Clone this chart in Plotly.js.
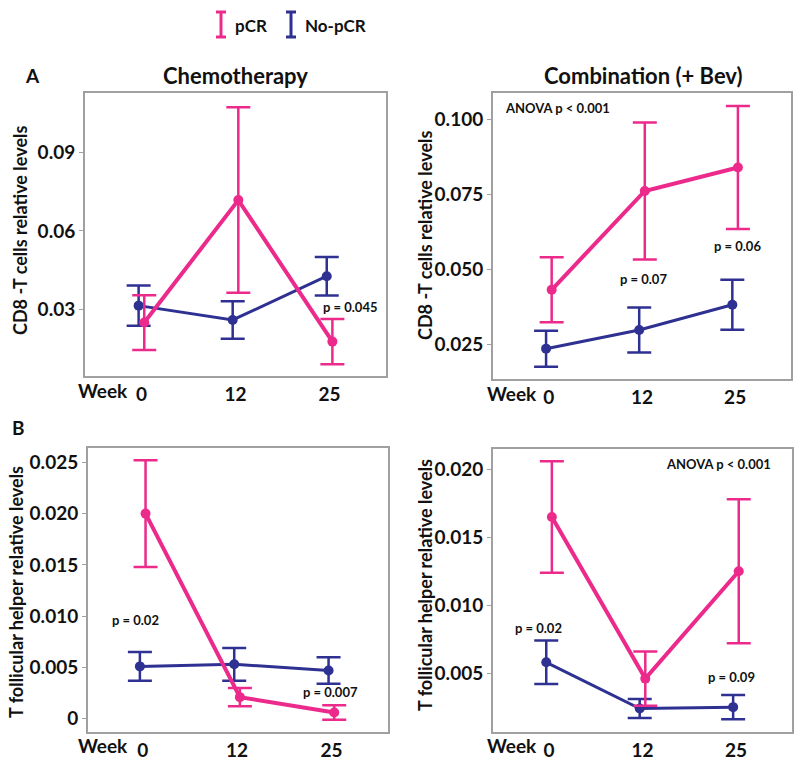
<!DOCTYPE html>
<html>
<head>
<meta charset="utf-8">
<script src="https://cdn.plot.ly/plotly-3.0.1.min.js"></script>
<style>
  body { margin: 0; background: #fff; }
  #chart { width: 800px; height: 763px; outline: 2px solid #a8a8a8; outline-offset: -2px; }
</style>
</head>
<body>
<div id="chart"></div>
<script>
// week categories
var weeks = ['0', '12', '25'];
var weekIdx = [0, 1, 2];

// A: CD8 T cells, chemotherapy
var chemoCd8Pcr = [0.0248, 0.0718, 0.0175];
var chemoCd8PcrErr = [0.0105, 0.0356, 0.0087];
var chemoCd8No = [0.0313, 0.0258, 0.0426];
var chemoCd8NoErr = [0.0077, 0.0072, 0.0074];

// A: CD8 T cells, combination
var combCd8Pcr = [0.0433, 0.0762, 0.0840];
var combCd8PcrErr = [0.0108, 0.0228, 0.0205];
var combCd8No = [0.0237, 0.0299, 0.0383];
var combCd8NoErr = [0.0060, 0.0075, 0.0083];

// B: T follicular helper, chemotherapy
var chemoTfhPcr = [0.0200, 0.0021, 0.0006];
var chemoTfhPcrErr = [0.0052, 0.0009, 0.0007];
var chemoTfhNo = [0.0051, 0.0053, 0.0047];
var chemoTfhNoErr = [0.0014, 0.0016, 0.0013];

// B: T follicular helper, combination
var combTfhPcr = [0.0165, 0.0046, 0.0125];
var combTfhPcrErr = [0.0041, 0.0020, 0.0053];
var combTfhNo = [0.0058, 0.0024, 0.0025];
var combTfhNoErr = [0.0016, 0.0007, 0.0009];

// y tick labels
var tickA1 = [0.03, 0.06, 0.09];
var tickA1Text = ['0.03', '0.06', '0.09'];
var tickA2 = [0.025, 0.05, 0.075, 0.1];
var tickA2Text = ['0.025', '0.050', '0.075', '0.100'];
var tickB1 = [0, 0.005, 0.01, 0.015, 0.02, 0.025];
var tickB1Text = ['0', '0.005', '0.010', '0.015', '0.020', '0.025'];
var tickB2 = [0.005, 0.01, 0.015, 0.02];
var tickB2Text = ['0.005', '0.010', '0.015', '0.020'];

var PINK = '#ec2a8c';
var BLUE = '#2e3192';
var FONT = 'Lato, "Open Sans", sans-serif';
var W = 800, H = 763;

function series(x, y, err, color, lw, xa, ya) {
    return {
        x: x, y: y, xaxis: xa, yaxis: ya,
        type: 'scatter', mode: 'lines+markers',
        line: {color: color, width: lw},
        marker: {color: color, size: 10},
        error_y: {type: 'data', array: err, visible: true, color: color, thickness: 2.5, width: 12},
        showlegend: false, hoverinfo: 'skip'
    };
}

// small dodge so the two groups don't sit exactly on each other
var pcrX = weekIdx.map(function(i){ return i + 0.03; });
var noX = weekIdx.map(function(i){ return i - 0.03; });

var data = [
    series(noX, chemoCd8No, chemoCd8NoErr, BLUE, 3, 'x', 'y'),
    series(pcrX, chemoCd8Pcr, chemoCd8PcrErr, PINK, 4, 'x', 'y'),
    series(noX, combCd8No, combCd8NoErr, BLUE, 3, 'x2', 'y2'),
    series(pcrX, combCd8Pcr, combCd8PcrErr, PINK, 4, 'x2', 'y2'),
    series(noX, chemoTfhNo, chemoTfhNoErr, BLUE, 3, 'x3', 'y3'),
    series(pcrX, chemoTfhPcr, chemoTfhPcrErr, PINK, 4, 'x3', 'y3'),
    series(noX, combTfhNo, combTfhNoErr, BLUE, 3, 'x4', 'y4'),
    series(pcrX, combTfhPcr, combTfhPcrErr, PINK, 4, 'x4', 'y4')
];

function xdom(l, r){ return [l / W, r / W]; }
function ydom(t, b){ return [1 - b / H, 1 - t / H]; }

function xaxis(l, r, range, ya) {
    return {
        domain: xdom(l, r), anchor: ya, range: range,
        tickvals: weekIdx, ticktext: weeks,
        showline: true, mirror: true, linecolor: '#a0a0a0', linewidth: 2,
        showgrid: false, zeroline: false, ticks: '',
        tickfont: {family: FONT, size: 19, color: '#111', weight: 700}
    };
}
function yaxis(t, b, range, vals, text, xa) {
    return {
        domain: ydom(t, b), anchor: xa, range: range,
        tickvals: vals, ticktext: text,
        showline: true, mirror: true, linecolor: '#a0a0a0', linewidth: 2,
        showgrid: false, zeroline: false, ticks: 'outside', ticklen: 4, tickcolor: '#a0a0a0',
        tickfont: {family: FONT, size: 19, color: '#111', weight: 700}
    };
}

function note(text, px, py, size, opts) {
    var a = {
        text: text, x: px / W, y: 1 - py / H, xref: 'paper', yref: 'paper',
        showarrow: false, xanchor: 'center', yanchor: 'middle',
        font: {family: FONT, size: size, color: '#111', weight: 700}
    };
    for (var k in (opts || {})) a[k] = opts[k];
    return a;
}

var annotations = [
    note('pCR', 233, 25, 17, {xanchor: 'left'}),
    note('No-pCR', 303, 25, 17, {xanchor: 'left'}),
    note('A', 32, 75, 19),
    note('B', 18, 427, 19),
    note('Chemotherapy', 235, 75, 22),
    note('Combination (+ Bev)', 643, 75, 22),
    note('CD8 -T cells relative levels', 20, 231, 18, {textangle: -90}),
    note('CD8 -T cells relative levels', 425, 236, 18, {textangle: -90}),
    note('T follicular helper relative levels', 16, 592, 18, {textangle: -90}),
    note('T follicular helper relative levels', 425, 585, 18, {textangle: -90}),
    note('Week', 103, 390, 19),
    note('Week', 512, 393, 19),
    note('Week', 103, 745, 19),
    note('Week', 512, 745, 19),
    note('p = 0.045', 350, 307, 13),
    note('ANOVA p < 0.001', 503, 108, 13, {xanchor: 'left'}),
    note('p = 0.07', 643, 279, 13),
    note('p = 0.06', 737, 246, 13),
    note('p = 0.02', 135, 620, 13),
    note('p = 0.007', 330, 692, 13),
    note('ANOVA p < 0.001', 718, 464, 13),
    note('p = 0.02', 538, 628, 13),
    note('p = 0.09', 731, 677, 13)
];

// legend glyphs: little error-bar "I" shapes
function glyph(cx, color) {
    var top = 12, bot = 37, hw = 5;
    var s = {type: 'line', xref: 'paper', yref: 'paper', line: {color: color, width: 3}};
    function ln(x0, y0, x1, y1) {
        var o = Object.assign({}, s);
        o.x0 = x0 / W; o.x1 = x1 / W; o.y0 = 1 - y0 / H; o.y1 = 1 - y1 / H;
        return o;
    }
    return [ln(cx, top, cx, bot), ln(cx - hw, top, cx + hw, top), ln(cx - hw, bot, cx + hw, bot)];
}

var shapes = glyph(221, PINK).concat(glyph(291, BLUE));

var layout = {
    width: W, height: H,
    margin: {l: 0, r: 0, t: 0, b: 0},
    paper_bgcolor: '#fff', plot_bgcolor: '#fff',
    showlegend: false,
    xaxis: xaxis(85, 386, [-0.6, 2.6], 'y'),
    yaxis: yaxis(93, 376, [0.0043, 0.1129], tickA1, tickA1Text, 'x'),
    xaxis2: xaxis(493, 791, [-0.6, 2.6], 'y2'),
    yaxis2: yaxis(93, 379, [0.0136, 0.1088], tickA2, tickA2Text, 'x2'),
    xaxis3: xaxis(88, 388, [-0.58, 2.6], 'y3'),
    yaxis3: yaxis(448, 732, [-0.0013, 0.0264], tickB1, tickB1Text, 'x3'),
    xaxis4: xaxis(493, 792, [-0.6, 2.6], 'y4'),
    yaxis4: yaxis(449, 732, [0.00067, 0.0215], tickB2, tickB2Text, 'x4'),
    annotations: annotations,
    shapes: shapes
};

Plotly.newPlot('chart', data, layout, {staticPlot: true});
</script>
</body>
</html>
